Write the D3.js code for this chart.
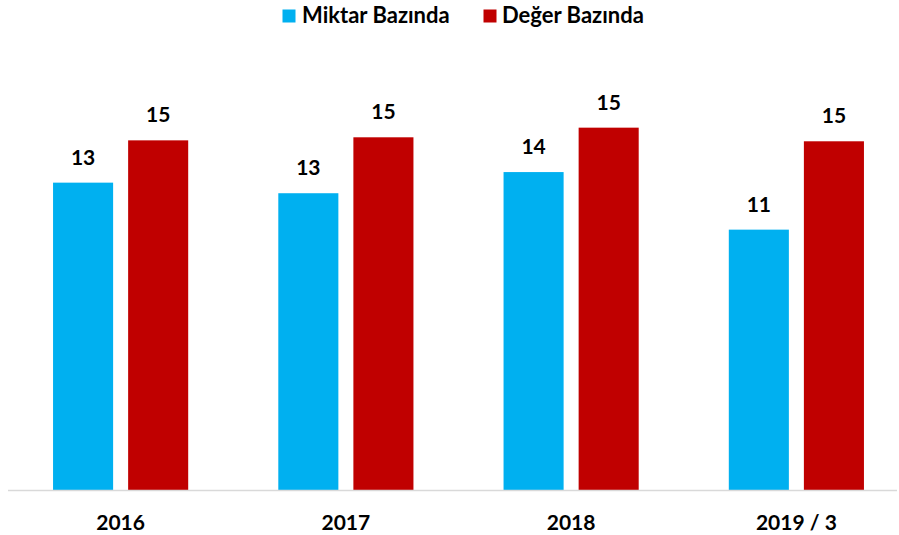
<!DOCTYPE html>
<html>
<head>
<meta charset="utf-8">
<script src="https://cdn.jsdelivr.net/npm/d3@7"></script>
<style>
  body { margin: 0; background: #fff; }
  svg { display: block; font-family: Lato, "Open Sans", sans-serif; }
</style>
</head>
<body>
<div id="chart"></div>
<script>
const categories = ["2016", "2017", "2018", "2019 / 3"];
const seriesNames = ["Miktar Bazında", "Değer Bazında"];
const miktar = [13.1, 12.65, 13.55, 11.1];
const deger = [14.9, 15.03, 15.44, 14.86];

const blue = "#00b0f0";
const red = "#c00000";

const colors = d3.scaleOrdinal()
    .domain(seriesNames)
    .range([blue, red]);

const width = 899;
const height = 535;
const baseline = 490.5;

const data = categories.map((c, i) => ({
    key: c,
    values: [
        { name: seriesNames[0], value: miktar[i] },
        { name: seriesNames[1], value: deger[i] }
    ]
}));

const svg = d3.select("#chart")
    .append("svg")
    .attr("width", width)
    .attr("height", height);

const x0 = d3.scaleBand()
    .domain(categories)
    .range([8, 909])
    .paddingInner(0.4)
    .paddingOuter(0.2);

const x1 = d3.scaleBand()
    .domain(seriesNames)
    .range([0, x0.bandwidth()])
    .paddingInner(0.2)
    .paddingOuter(0);

const y = d3.scaleLinear()
    .domain([0, 20])
    .range([baseline, baseline - 20 * 23.5]);

// bars
const groups = svg.selectAll(".group")
    .data(data)
    .enter()
    .append("g")
    .attr("class", "group")
    .attr("transform", d => `translate(${x0(d.key)},0)`);

groups.selectAll("rect")
    .data(d => d.values)
    .enter()
    .append("rect")
    .attr("x", d => x1(d.name))
    .attr("y", d => y(d.value))
    .attr("width", x1.bandwidth())
    .attr("height", d => y(0) - y(d.value))
    .attr("fill", d => colors(d.name));

groups.selectAll(".bar-label")
    .data(d => d.values)
    .enter()
    .append("text")
    .attr("class", "bar-label")
    .attr("x", d => x1(d.name) + x1.bandwidth() / 2)
    .attr("y", d => y(d.value) - 18)
    .attr("text-anchor", "middle")
    .style("font-weight", "bold")
    .style("font-size", "21px")
    .attr("fill", "#000")
    .text(d => d3.format(".0f")(d.value));

// axis line
svg.append("line")
    .attr("x1", 8)
    .attr("x2", 897)
    .attr("y1", baseline)
    .attr("y2", baseline)
    .attr("stroke", "#d9d9d9")
    .attr("stroke-width", 1.5);

// category labels
svg.selectAll(".cat-label")
    .data(categories)
    .enter()
    .append("text")
    .attr("class", "cat-label")
    .attr("x", d => x0(d) + x0.bandwidth() / 2)
    .attr("y", 530)
    .attr("text-anchor", "middle")
    .style("font-weight", "bold")
    .style("font-size", "21px")
    .attr("fill", "#000")
    .text(d => d);

// legend
const legendItems = [
    { name: seriesNames[0], sx: 282.5, tx: 302 },
    { name: seriesNames[1], sx: 483.5, tx: 502 }
];

const legend = svg.append("g");

legend.selectAll("rect")
    .data(legendItems)
    .enter()
    .append("rect")
    .attr("x", d => d.sx)
    .attr("y", 9.5)
    .attr("width", 13)
    .attr("height", 13)
    .attr("fill", d => colors(d.name));

legend.selectAll("text")
    .data(legendItems)
    .enter()
    .append("text")
    .attr("x", d => d.tx)
    .attr("y", 23)
    .style("font-weight", "bold")
    .style("font-size", "22px")
    .attr("fill", "#000")
    .text(d => d.name);
</script>
</body>
</html>
